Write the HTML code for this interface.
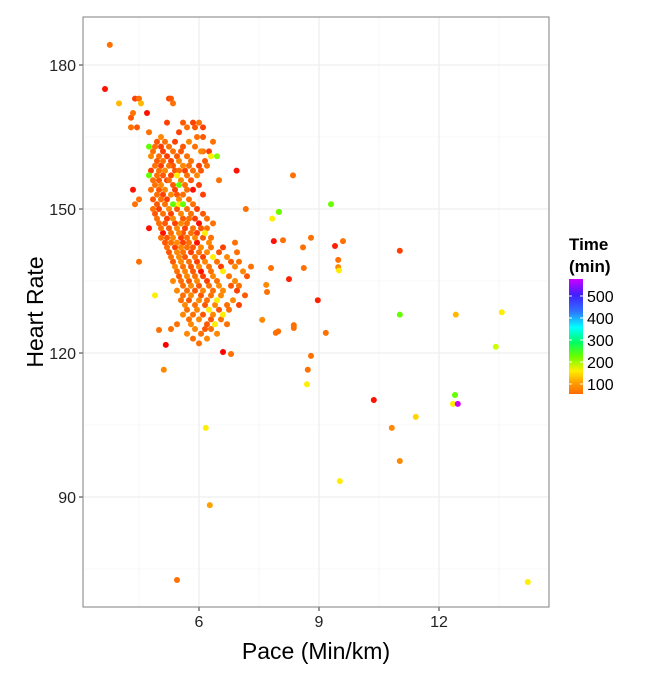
<!DOCTYPE html>
<html><head><meta charset="utf-8"><style>
body{margin:0;background:#fff;font-family:"Liberation Sans",sans-serif}
svg text{font-family:"Liberation Sans",sans-serif}
</style></head><body>
<svg id="c" width="672" height="672" xmlns="http://www.w3.org/2000/svg">
<defs><linearGradient id="lg" x1="0" y1="1" x2="0" y2="0">
<stop offset="0" stop-color="#FF6A00"/><stop offset="0.1" stop-color="#FFA000"/><stop offset="0.2" stop-color="#FFEE00"/>
<stop offset="0.33" stop-color="#66FF00"/><stop offset="0.45" stop-color="#00FF66"/><stop offset="0.58" stop-color="#00FFFF"/>
<stop offset="0.72" stop-color="#3070FF"/><stop offset="0.86" stop-color="#4020FF"/><stop offset="1" stop-color="#CC00FF"/></linearGradient></defs>
</svg>
<script>
const xTicks=[6,9,12];
const yTicks=[90,120,150,180];
const legendTicks=[100,200,300,400,500];
// rows of the dense cluster: heart rate, paces, times
const rowHr=[173,172,170,168,167,166,165,164,163,162,161,160,159,158,157,156,155,154,153,152,151,150,149,148,147,146,145,144,143,142,141,140,139,138,137,136,135,134,133,132,131,130,129,128,127,126,125,124,123,122];
const rowPace=[
[4.4,4.5,5.25,5.3],[4.55,5.35],[4.7,4.35],[5.6,5.85,6.0,5.2],[4.3,4.45,5.7,6.1,5.9],[4.75,5.5],[5.95,6.1,5.05],
[4.95,5.15,5.4,5.75,6.35],[4.75,4.9,5.05,5.25,5.6,5.9],[4.85,5.1,5.35,5.55,6.05,6.1,6.25],[4.8,5.0,5.2,5.45,5.7,6.3,6.45],
[4.95,5.1,5.3,5.5,5.8,6.15],[4.9,5.05,5.25,5.35,5.6,5.75,6.0,6.2],[4.8,5.0,5.15,5.4,5.5,5.65,5.85,6.05],
[4.75,4.95,5.1,5.3,5.45,5.7,5.95],[4.85,5.0,5.2,5.25,5.55,5.8,6.5],[4.9,5.05,5.35,5.5,5.65,6.0],
[4.35,4.8,5.0,5.15,5.4,5.7,5.85],[4.95,5.1,5.3,5.45,5.6,6.1],[4.5,4.85,5.05,5.2,5.5,5.75],
[4.95,5.15,5.35,5.5,5.6,5.85,4.4],[4.85,5.0,5.25,5.45,5.7,5.95],[4.9,5.1,5.3,5.55,5.8,6.1],
[4.95,5.2,5.35,5.6,5.75,5.9,6.2],[5.0,5.15,5.4,5.55,5.7,6.0,6.35],[4.75,5.05,5.25,5.45,5.65,5.85,6.05,6.2],
[5.1,5.3,5.5,5.6,5.8,5.95,6.15],[5.05,5.2,5.35,5.55,5.7,5.9,6.1,6.3],[5.15,5.3,5.45,5.6,5.75,5.95,6.25,6.9],
[5.2,5.4,5.55,5.7,5.85,6.05,6.3,6.6],[5.25,5.45,5.6,5.8,6.0,6.2,6.5,6.95],[5.3,5.5,5.65,5.9,6.1,6.35,6.7],
[4.5,5.35,5.55,5.75,5.95,6.15,6.45,6.8,7.0],[5.4,5.6,5.8,6.0,6.25,6.55,6.9,7.3],[5.45,5.65,5.85,6.05,6.3,6.6,7.1],
[5.5,5.7,5.9,6.1,6.35,6.75,7.2],[5.35,5.55,5.75,5.95,6.2,6.45,6.9],[5.6,5.8,6.0,6.25,6.5,6.8,7.0],
[5.45,5.7,5.9,6.1,6.35,6.6,6.95],[4.9,5.6,5.8,6.05,6.3,6.55,7.15],[5.55,5.75,6.0,6.2,6.45,6.85],
[5.65,5.9,6.15,6.4,6.7,7.0],[5.7,5.95,6.25,6.5,6.75],[5.6,5.85,6.1,6.35,6.6],[5.75,6.0,6.3,6.55],
[5.45,5.8,6.2,6.4,6.7],[5.3,5.9,6.15,6.3],[5.7,6.05,6.45],[5.85,6.2],[6.0]];
const rowTime=[
[60,80,60,70],[110,80],[45,80],[70,60,80,60],[80,70,80,60,70],[80,60],[80,70,90],
[70,80,60,90,80],[200,80,60,80,70,80],[80,60,80,70,90,80,60],[90,80,60,70,80,130,190],
[70,80,60,90,80,70],[80,60,80,70,90,80,60,80],[60,80,90,70,80,60,80,70],
[200,80,70,60,130,80,90],[80,70,60,80,90,70,80],[80,90,70,200,80,60],
[45,80,70,90,60,80,45],[80,60,90,70,80,60],[80,70,80,60,90,80],
[70,80,200,130,200,80,80],[80,60,90,70,80,60],[70,80,60,90,80,70],
[80,60,90,70,80,60,80],[80,70,60,90,80,45,80],[45,80,70,90,60,80,70,80],
[45,80,90,70,80,60,130],[80,70,90,60,80,90,70,80],[70,80,90,60,80,45,90,80],
[80,60,90,80,70,90,80,60],[70,90,80,60,80,90,70,80],[80,90,70,80,60,130,90],
[80,70,90,80,60,90,80,70,80],[90,80,70,90,80,60,90,80],[80,90,70,45,80,130,90],
[70,90,80,60,90,80,70],[90,80,70,90,60,80,90],[80,90,70,80,90,70,80],
[90,80,70,90,80,90,60],[130,80,90,70,80,90,70],[80,70,90,80,130,90],
[90,80,70,90,80,60],[80,90,130,70,80],[90,80,70,90,130],[80,90,70,80],
[80,90,70,130,80],[80,90,70,80],[90,80,90],[80,90],[80]];
// scattered points outside the cluster
const outPace=[3.77,3.65,4.0,4.3,6.94,8.35,7.17,8.0,7.99,7.83,9.3,8.6,9.6,9.4,9.48,9.48,9.5,11.02,8.8,8.1,7.87,8.25,8.62,7.8,7.68,7.7,7.58,7.92,7.98,8.37,8.37,8.97,9.17,8.8,8.72,8.7,11.02,12.42,13.57,13.42,12.4,12.35,12.47,10.37,11.42,10.82,11.02,9.52,14.22,5.45,6.27,6.17,6.6,6.8,5.12,5.17,5.0];
const outHr=[184.2,175,172,169,158,157,150,149.4,149.4,148,151,142,143.3,142.3,139.4,137.9,137.2,141.3,144,143.5,143.3,135.4,137.7,137.7,134.2,132.7,126.9,124.2,124.5,125.8,125.2,131,124.2,119.4,116.5,113.5,128,128,128.5,121.3,111.25,109.4,109.4,110.2,106.7,104.4,97.5,93.3,72.3,72.7,88.3,104.4,120.2,119.8,116.5,121.7,124.8];
const outTime=[80,45,110,70,45,80,80,200,130,130,200,80,80,50,80,90,130,60,80,80,45,50,80,80,90,80,90,80,80,80,80,50,80,80,80,130,200,110,130,170,200,130,560,45,120,90,90,130,130,80,100,130,40,80,90,40,80];

const NS="http://www.w3.org/2000/svg",svg=document.getElementById('c');
const L=83,R=549,T=17,B=607;
const xs=v=>199+(v-6)*40, ys=v=>65+(180-v)*4.8;
function mk(tag,at,txt){const e=document.createElementNS(NS,tag);for(const k in at)e.setAttribute(k,at[k]);if(txt!=null)e.textContent=txt;svg.appendChild(e);return e;}
function col(t){const s=[[40,[255,0,0]],[60,[255,64,0]],[80,[255,112,0]],[100,[255,160,0]],[130,[255,238,0]],[170,[204,255,0]],[200,[100,255,0]],[250,[0,255,96]],[300,[0,255,255]],[400,[48,80,255]],[500,[96,0,255]],[560,[204,0,255]]];
 if(t<=s[0][0])return 'rgb(255,0,0)';for(let i=1;i<s.length;i++){if(t<=s[i][0]){const f=(t-s[i-1][0])/(s[i][0]-s[i-1][0]);const c=s[i-1][1].map((a,j)=>Math.round(a+(s[i][1][j]-a)*f));return 'rgb('+c+')';}}return 'rgb(204,0,255)';}
let bg=mk('rect',{x:L,y:T,width:R-L,height:B-T,fill:'#fff'});


[4.5,7.5,10.5,13.5].forEach(v=>mk('line',{x1:xs(v),x2:xs(v),y1:T,y2:B,stroke:'#f2f2f2','stroke-width':0.6}));
[75,105,135,165].forEach(v=>mk('line',{x1:L,x2:R,y1:ys(v),y2:ys(v),stroke:'#f2f2f2','stroke-width':0.6}));
xTicks.forEach(v=>{mk('line',{x1:xs(v),x2:xs(v),y1:T,y2:B,stroke:'#ebebeb','stroke-width':1.1});
 mk('line',{x1:xs(v),x2:xs(v),y1:B,y2:B+4,stroke:'#333','stroke-width':1});
 const t=mk('text',{x:xs(v),y:B+20,'text-anchor':'middle','font-size':16,fill:'#222'},v);
 
 });
yTicks.forEach(v=>{mk('line',{x1:L,x2:R,y1:ys(v),y2:ys(v),stroke:'#ebebeb','stroke-width':1.1});
 mk('line',{x1:L-4,x2:L,y1:ys(v),y2:ys(v),stroke:'#333','stroke-width':1});
 const t=mk('text',{x:L-7,y:ys(v)+6,'text-anchor':'end','font-size':16,fill:'#222'},v);
 
 });
const pts=[];
rowHr.forEach((h,i)=>rowPace[i].forEach((p,j)=>pts.push([p,h,rowTime[i][j]])));
outPace.forEach((p,i)=>pts.push([p,outHr[i],outTime[i]]));
pts.sort((a,b)=>a[2]-b[2]);
pts.forEach(d=>{const c=mk('circle',{cx:xs(d[0]),cy:ys(d[1]),r:3,fill:col(d[2])});
 
 });
mk('rect',{x:L,y:T,width:R-L,height:B-T,fill:'none',stroke:'#7f7f7f','stroke-width':1});
let xt=mk('text',{x:316,y:659,'text-anchor':'middle','font-size':23,fill:'#000'},'Pace (Min/km)');


let yt=mk('text',{x:0,y:0,transform:'translate(43,312) rotate(-90)','text-anchor':'middle','font-size':23,fill:'#000'},'Heart Rate');


let lt1=mk('text',{x:569,y:250,'font-size':17,'font-weight':'bold',fill:'#000'},'Time');


mk('text',{x:569,y:272,'font-size':17,'font-weight':'bold',fill:'#000'},'(min)');
let lb=mk('rect',{x:569,y:279,width:14,height:115,fill:'url(#lg)'});


const ly=v=>384-(v-100)*0.22;
legendTicks.forEach(v=>{mk('line',{x1:569,x2:572,y1:ly(v),y2:ly(v),stroke:'#fff','stroke-width':1});
 mk('line',{x1:580,x2:583,y1:ly(v),y2:ly(v),stroke:'#fff','stroke-width':1});
 const t=mk('text',{x:587,y:ly(v)+6,'font-size':16,fill:'#000'},v);
 
 });
</script>
</body></html>
